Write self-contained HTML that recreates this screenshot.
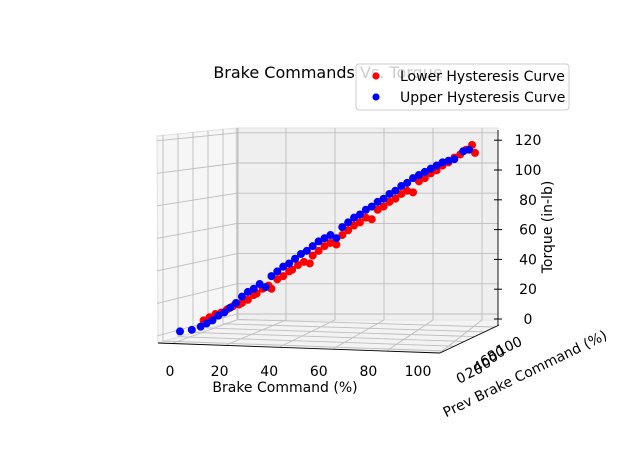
<!DOCTYPE html>
<html><head><meta charset="utf-8"><style>
html,body{margin:0;padding:0;background:#fff;}
svg{display:block;font-family:"DejaVu Sans","Liberation Sans",sans-serif;}
</style></head><body>
<svg id="chart" width="640" height="472" viewBox="0 0 640 472">
  <g>
    <polygon points="157,136 236,128 237,320 158,343" fill="#f6f6f6" stroke="#e0e0e0"/>
    <polygon points="236,128 498,128 498,320 237,320" fill="#efefef" stroke="#e0e0e0"/>
    <polygon points="158,343 237,320 498,320 498,326 440,353" fill="#f3f3f3" stroke="#e0e0e0"/>
  </g>
  <g id="grid" stroke="#bdbdbd" stroke-width="0.9" fill="none"></g>
  <g stroke="#000" stroke-width="0.9" fill="none">
    <line x1="158" y1="343" x2="440" y2="353"/>
    <line x1="440" y1="353" x2="499" y2="325"/>
    <line x1="498" y1="130" x2="498" y2="325"/>
  </g>
  <g id="zticks"></g>
  <g id="points"></g>
  <g id="xticks" font-size="14" fill="#000" text-anchor="middle"></g>
  <g font-size="14" fill="#000">
    <text x="459" y="384" transform="rotate(-25 459 384)">0</text>
    <text x="468" y="379" transform="rotate(-25 468 379)">20</text>
    <text x="476" y="373" transform="rotate(-25 476 373)">40</text>
    <text x="483" y="367" transform="rotate(-25 483 367)">60</text>
    <text x="490" y="362" transform="rotate(-25 490 362)">80</text>
    <text x="499" y="356" transform="rotate(-25 499 356)">100</text>
  </g>
  <text x="285" y="392" font-size="14" text-anchor="middle">Brake Command (%)</text>
  <text x="527" y="378" font-size="14" text-anchor="middle" transform="rotate(-26 527 378)">Prev Brake Command (%)</text>
  <text x="552" y="227" font-size="14" text-anchor="middle" transform="rotate(-90 552 227)">Torque (in-lb)</text>
  <text x="328" y="78" font-size="16" text-anchor="middle">Brake Commands Vs. Torque</text>
  <g>
    <rect x="356" y="64" width="213" height="46" rx="3" fill="rgba(255,255,255,0.8)" stroke="#ccc"/>
    <circle cx="376" cy="76" r="3.6" fill="#ff0000"/>
    <text x="400" y="81" font-size="14">Lower Hysteresis Curve</text>
    <circle cx="376" cy="97" r="3.6" fill="#0000ff"/>
    <text x="400" y="102" font-size="14">Upper Hysteresis Curve</text>
  </g>
</svg>
<script>
const xTicks = [0,20,40,60,80,100];
const zTicks = [0,20,40,60,80,100,120];
const redBrake  = [8,10,12,14,16,18,20,21,23,25,26,28,30,31,33,35,37,38,40,42,44,45,47,49,51,53,55,57,59,61,63,65,67,69,71,73,75,77,79,81,83,85,87,89,91,93,95,97,99,100];
const redTorque = [8,10,12,13,15,17,18,19,21,24,25,28,30,28,34,36,39,40,43,45,44,49,52,55,57,56,62,65,68,70,73,72,78,80,83,85,88,90,89,96,98,101,103,106,108,111,113,116,119,114];
const blueBrake  = [0,4,7,9,11,13,15,17,19,21,23,25,27,29,31,33,35,37,39,41,43,45,47,49,51,53,55,57,59,61,63,65,67,69,71,73,75,77,79,81,83,85,87,89,91,93,96,98];
const blueTorque = [1,2,4,6,8,11,13,16,19,23,26,28,31,29,36,39,42,44,47,50,52,55,58,60,62,60,67,70,73,75,78,80,83,85,88,90,93,95,98,100,102,104,106,108,109,110,115,116];
const NS='http://www.w3.org/2000/svg';
function sx(b){return 180 + b*2.95;}
function sy(t){return 333 - t*1.58;}
function zAxisY(t){return 319 - t*1.49;}
function backGridY(t){return 314 - t*1.51;}
function mk(tag,attrs,parent){const e=document.createElementNS(NS,tag);for(const k in attrs)e.setAttribute(k,attrs[k]);parent.appendChild(e);return e;}
const grid=document.getElementById('grid');
zTicks.forEach(t=>{
  const y=backGridY(t);
  const l=mk('line',{x1:237,y1:y,x2:498,y2:y},grid);
  
  
  const l2=mk('line',{x1:157,y1:y+8+(1-t/120)*14,x2:237,y2:y},grid);
  
  
});
xTicks.forEach((b,i)=>{
  const x=237+i*49;
  const l=mk('line',{x1:x,y1:128,x2:x,y2:320},grid);
  
  
  const fx=173+b*2.68;
  const l2=mk('line',{x1:x,y1:320,x2:fx,y2:343+b*0.09},grid);
  
  
});
[0,1,2,3,4,5].forEach(i=>{
  const x=163+i*15;
  const l=mk('line',{x1:x,y1:135-i*1.5,x2:x,y2:341-i*4.3},grid);
  
  
  const l2=mk('line',{x1:x,y1:341-i*4.3,x2:444+i*10,y2:351-i*4.8},grid);
  
  
});
const zt=document.getElementById('zticks');
zTicks.forEach(t=>{
  const y=zAxisY(t);
  const l=mk('line',{x1:494,y1:y,x2:502,y2:y,stroke:'#000','stroke-width':1},zt);
  
  
  const tx=mk('text',{x:528,y:y+5,'font-size':14,'text-anchor':'middle'},zt);
  tx.textContent=t;
  
  
});
const xt=document.getElementById('xticks');
xTicks.forEach(b=>{
  const tx=mk('text',{x:170+b*2.48,y:376},xt);
  tx.textContent=b;
  
  
});
const pts=document.getElementById('points');
redBrake.forEach((b,i)=>{
  const c=mk('circle',{cx:sx(b),cy:sy(redTorque[i]),r:4,fill:'#ff0000'},pts);
  
  
});
blueBrake.forEach((b,i)=>{
  const c=mk('circle',{cx:sx(b),cy:sy(blueTorque[i]),r:4,fill:'#0000ff'},pts);
  
  
});
</script>
</body></html>
